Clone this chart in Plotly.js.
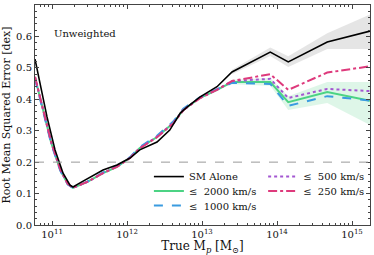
<!DOCTYPE html>
<html><head><meta charset="utf-8">
<script src="https://cdn.plot.ly/plotly-3.0.1.min.js"></script>
<style>html,body{margin:0;padding:0;background:#fff}</style>
</head><body><div id="chart" style="width:374px;height:255px"></div>
<script>
// log10 of true mass (x) and RMSE [dex] (y)
const smLogM = [10.773,10.813,10.933,11.04,11.147,11.24,11.28,11.373,11.507,11.68,11.866,12.04,12.17,12.40,12.57,12.71,12.80,12.97,13.20,13.40,13.91,14.15,14.67,15.24];
const smRMSE = [0.528,0.483,0.344,0.239,0.165,0.127,0.121,0.134,0.153,0.175,0.191,0.213,0.239,0.264,0.302,0.356,0.375,0.407,0.440,0.487,0.550,0.519,0.582,0.617];
const smBandX = [13.40,13.91,14.15,14.67,15.24];
const smBandLo = [0.480,0.538,0.503,0.560,0.560];
const smBandHi = [0.494,0.565,0.537,0.610,0.670];

const colLogM = [10.773,10.88,10.99,11.11,11.21,11.28,11.47,11.68,11.866,12.04,12.17,12.40,12.62,12.75,12.97,13.20,13.40];
const v2000Early = [0.470,0.366,0.261,0.175,0.130,0.118,0.137,0.165,0.185,0.214,0.245,0.280,0.325,0.366,0.404,0.430,0.455];
const v1000Early = [0.465,0.360,0.258,0.173,0.129,0.118,0.138,0.167,0.188,0.216,0.248,0.284,0.330,0.370,0.406,0.432,0.452];
const v500Early  = [0.470,0.366,0.262,0.176,0.130,0.118,0.137,0.165,0.186,0.214,0.245,0.281,0.326,0.366,0.404,0.431,0.458];
const v250Early  = [0.472,0.368,0.263,0.177,0.131,0.119,0.137,0.165,0.185,0.213,0.244,0.279,0.324,0.365,0.403,0.430,0.458];
const lateLogM = [13.91,14.15,14.67,15.24];
const v2000Late = [0.455,0.391,0.423,0.395];
const v1000Late = [0.449,0.379,0.410,0.396];
const v500Late  = [0.465,0.404,0.433,0.426];
const v250Late  = [0.480,0.430,0.485,0.505];
const greenBandX = [13.40,13.91,14.15,14.67,15.24];
const greenBandLo = [0.448,0.443,0.366,0.388,0.318];
const greenBandHi = [0.462,0.468,0.410,0.455,0.455];

const refLine = 0.2;
const xTickVals = [11,12,13,14,15];

const pw = v => Math.pow(10, v);
const X = arr => arr.map(pw);
const colX = X(colLogM.concat(lateLogM));

const font = "DejaVu Serif, serif";
const traces = [
  {x: X(smBandX), y: smBandLo, mode:'lines', line:{width:0}, showlegend:false, hoverinfo:'skip'},
  {x: X(smBandX), y: smBandHi, mode:'lines', line:{width:0}, fill:'tonexty', fillcolor:'rgba(150,150,150,0.25)', showlegend:false, hoverinfo:'skip'},
  {x: X(greenBandX), y: greenBandLo, mode:'lines', line:{width:0}, showlegend:false, hoverinfo:'skip'},
  {x: X(greenBandX), y: greenBandHi, mode:'lines', line:{width:0}, fill:'tonexty', fillcolor:'rgba(70,205,130,0.18)', showlegend:false, hoverinfo:'skip'},
  {x: colX, y: v2000Early.concat(v2000Late), mode:'lines', name:'≤  2000 km/s', line:{color:'#4cd384', width:2}, legend:'legend2'},
  {x: colX, y: v1000Early.concat(v1000Late), mode:'lines', name:'≤  1000 km/s', line:{color:'#3a9be0', width:2, dash:'dash'}, legend:'legend3'},
  {x: colX, y: v500Early.concat(v500Late), mode:'lines', name:'≤  500 km/s', line:{color:'#a357d1', width:2, dash:'dot'}, legend:'legend4'},
  {x: colX, y: v250Early.concat(v250Late), mode:'lines', name:'≤  250 km/s', line:{color:'#de3a7c', width:2, dash:'dashdot'}, legend:'legend5'},
  {x: X(smLogM), y: smRMSE, mode:'lines', name:'SM Alone', line:{color:'#000', width:1.6}, legend:'legend'}
];

const axCommon = {showline:true, linecolor:'#444', linewidth:1, mirror:'ticks', ticks:'inside', ticklen:4, tickcolor:'#444', showgrid:false, zeroline:false, tickfont:{family:font, size:10, color:'#111'}};

const mkLegend = (x, y) => ({x:x, y:y, xanchor:'left', yanchor:'top', bgcolor:'rgba(0,0,0,0)', borderwidth:0, font:{family:font, size:10, color:'#111'}, itemwidth:30});

const layout = {
  width:374, height:255, margin:{l:35, r:4, t:5, b:30},
  paper_bgcolor:'#fff', plot_bgcolor:'#fff',
  font:{family:font, color:'#111'},
  xaxis: Object.assign({}, axCommon, {type:'log', range:[10.773, 15.24], tickvals: X(xTickVals), ticktext: xTickVals.map(v=>'10<sup>'+v+'</sup>'),
    minor:{ticks:'inside', ticklen:2, tickcolor:'#444', dtick:'D1'},
    title:{text:'True M<sub><i>p</i></sub> [M<sub>⊙</sub>]', font:{family:font, size:12}, standoff:6}}),
  yaxis: Object.assign({}, axCommon, {range:[0,0.7], dtick:0.1, tickformat:'.1f',
    minor:{ticks:'inside', ticklen:2, tickcolor:'#444', dtick:0.02},
    title:{text:'Root Mean Squared Error [dex]', font:{family:font, size:11}, standoff:4}}),
  shapes:[{type:'line', xref:'paper', x0:0, x1:1, yref:'y', y0:refLine, y1:refLine, line:{color:'#999', width:1, dash:'dash'}}],
  annotations:[{text:'Unweighted', xref:'paper', yref:'paper', x:0.05, y:0.87, xanchor:'left', yanchor:'middle', showarrow:false, font:{family:font, size:10, color:'#111'}}],
  legend: mkLegend(0.34, 0.286),
  legend2: mkLegend(0.34, 0.220),
  legend3: mkLegend(0.34, 0.154),
  legend4: mkLegend(0.681, 0.286),
  legend5: mkLegend(0.681, 0.220),
  showlegend:true
};
Plotly.newPlot('chart', traces, layout, {staticPlot:true, displayModeBar:false});
</script></body></html>
